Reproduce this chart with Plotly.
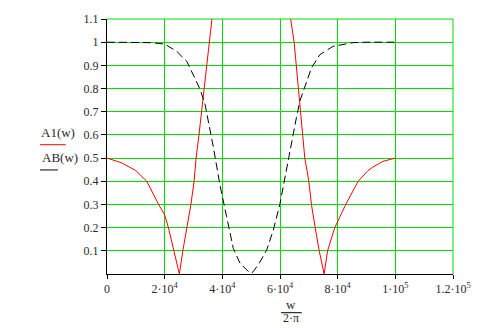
import plotly.graph_objects as go

# ---- data (x axis is w / 2·pi) ----
a1_freq = [0, 5000, 10000, 13800, 17900, 20000, 21300, 23300, 25100,
           26300, 27700, 29100, 30200, 30900, 31900, 32700, 33700, 34600, 35500, 36400, 37300,
           62900, 63700, 64900, 65600, 66300, 67100, 67800, 68600, 70000, 70900, 72200, 73600, 75300,
           76500, 79000, 82800, 87100, 90500, 92200, 95700, 100000]
a1_vals = [0.5, 0.48, 0.446, 0.40, 0.30, 0.255, 0.20, 0.10, 0.0,
           0.1, 0.2, 0.3, 0.4, 0.5, 0.6, 0.7, 0.8, 0.9, 1.0, 1.1, 1.2,
           1.2, 1.1, 1.0, 0.9, 0.8, 0.7, 0.6, 0.5, 0.4, 0.3, 0.2, 0.1, 0.0,
           0.1, 0.2, 0.3, 0.4, 0.446, 0.461, 0.486, 0.5]

ab_freq = [0, 10000, 15000, 20000, 24200, 27700, 30550, 32300, 34000, 35750, 36900,
           38100, 39200, 41500, 43800, 46100, 49000, 50200, 52500, 55400, 57700,
           60000, 63200, 64600, 65700, 66900, 68600, 70900, 73800, 78400, 85300, 90000, 100000]
ab_vals = [1.0, 1.0, 0.998, 0.992, 0.96, 0.917, 0.839, 0.796, 0.732, 0.625, 0.546,
           0.461, 0.382, 0.247, 0.111, 0.047, 0.011, 0.003, 0.04, 0.104, 0.19,
           0.304, 0.518, 0.604, 0.675, 0.746, 0.803, 0.889, 0.946, 0.982, 0.998, 1.0, 1.0]

x_ticks = [0, 20000, 40000, 60000, 80000, 100000, 120000]
x_ticktext = ["0", "2·10<sup>4</sup>", "4·10<sup>4</sup>", "6·10<sup>4</sup>",
              "8·10<sup>4</sup>", "1·10<sup>5</sup>", "1.2·10<sup>5</sup>"]
y_ticks = [0.1, 0.2, 0.3, 0.4, 0.5, 0.6, 0.7, 0.8, 0.9, 1.0, 1.1]
y_ticktext = ["0.1", "0.2", "0.3", "0.4", "0.5", "0.6", "0.7", "0.8", "0.9", "1", "1.1"]

GREEN = "#00dd00"
FONT = "Liberation Serif"
TXT = "#2a2a2a"

fig = go.Figure()
fig.add_trace(go.Scatter(x=a1_freq, y=a1_vals, mode="lines",
                         line=dict(color="#ff0000", width=1), name="A1(w)"))
fig.add_trace(go.Scatter(x=ab_freq, y=ab_vals, mode="lines",
                         line=dict(color="#000000", width=1, dash="8px,4px"), name="AB(w)"))

fig.update_layout(
    width=489, height=328,
    margin=dict(l=107, r=36, t=17, b=54),
    paper_bgcolor="white", plot_bgcolor="white",
    showlegend=False,
    font=dict(family=FONT, size=12, color=TXT),
)
fig.update_xaxes(range=[0, 120000], tickmode="array", tickvals=x_ticks, ticktext=x_ticktext,
                 showgrid=True, gridcolor=GREEN, gridwidth=1,
                 showline=True, linecolor="black", linewidth=1,
                 ticks="outside", ticklen=4, tickcolor="black", tickwidth=1,
                 zeroline=False, tickfont=dict(family=FONT, size=12, color=TXT))
fig.update_yaxes(range=[0, 1.1], tickmode="array", tickvals=y_ticks, ticktext=y_ticktext,
                 showgrid=True, gridcolor=GREEN, gridwidth=1,
                 showline=True, linecolor="black", linewidth=1,
                 ticks="outside", ticklen=5, tickcolor="black", tickwidth=1,
                 zeroline=False, tickfont=dict(family=FONT, size=12, color=TXT))

# green border lines at the top and right edge (grid at range ends)
fig.add_shape(type="line", xref="paper", yref="paper", x0=0, x1=1, y0=1, y1=1,
              line=dict(color=GREEN, width=1))
fig.add_shape(type="line", xref="paper", yref="paper", x0=1, x1=1, y0=0, y1=1,
              line=dict(color=GREEN, width=1))

def label(x, y, text, yanchor="middle", size=13):
    fig.add_annotation(xref="paper", yref="paper", x=x, y=y, text=text,
                       xanchor="center", yanchor=yanchor, showarrow=False, borderpad=0,
                       font=dict(family=FONT, size=size, color=TXT))

# legend-like labels on the left
label(-0.141, 0.555, "A1(w)")
fig.add_shape(type="line", xref="paper", yref="paper", x0=-0.1936, x1=-0.119, y0=0.507, y1=0.507,
              line=dict(color="#ff0000", width=1))
label(-0.137, 0.458, "AB(w)")
fig.add_shape(type="line", xref="paper", yref="paper", x0=-0.1936, x1=-0.142, y0=0.408, y1=0.408,
              line=dict(color="#000000", width=1))

# x-axis title as a fraction w / 2·π
label(0.533, -0.1195, "w")
fig.add_shape(type="line", xref="paper", yref="paper", x0=0.503, x1=0.563, y0=-0.1518, y1=-0.1518,
              line=dict(color="#000000", width=1))
label(0.533, -0.203, "2·π", yanchor="bottom", size=12)

fig.write_html("out.html")
